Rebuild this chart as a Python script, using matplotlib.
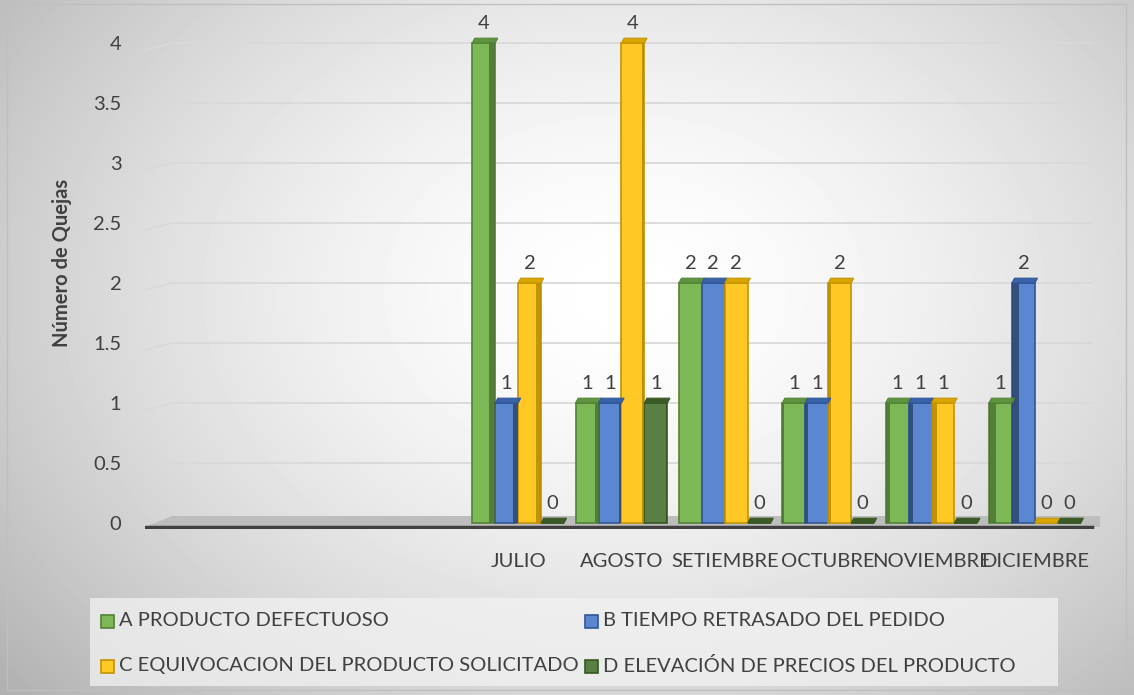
import numpy as np
import matplotlib.pyplot as plt
from matplotlib.patches import Polygon, Rectangle

# Monthly complaint counts per cause (first three slots are empty categories)
months = ['', '', '', 'JULIO', 'AGOSTO', 'SETIEMBRE', 'OCTUBRE', 'NOVIEMBRE', 'DICIEMBRE']
active = [3, 4, 5, 6, 7, 8]
serie_a = [4, 1, 2, 1, 1, 1]
serie_b = [1, 1, 2, 1, 1, 2]
serie_c = [2, 4, 2, 2, 1, 0]
serie_d = [0, 1, 0, 0, 0, 0]
series_names = ['A PRODUCTO DEFECTUOSO',
                'B TIEMPO RETRASADO DEL PEDIDO',
                'C EQUIVOCACION DEL PRODUCTO SOLICITADO',
                'D ELEVACIÓN DE PRECIOS DEL PRODUCTO']
y_ticks = [0, 0.5, 1, 1.5, 2, 2.5, 3, 3.5, 4]

faces = ['#7DB857', '#5B87D0', '#FFC825', '#5A7F45']
edges = ['#548235', '#2F5597', '#C49400', '#385723']
tops = ['#5E9440', '#3A62A8', '#D9A600', '#3A5A28']
sides = ['#4C7434', '#2D4670', '#B88A00', '#34502A']

plt.rcParams['font.family'] = ['Lato', 'DejaVu Sans']
txt = '#404040'
fs = 14.5

W, H = 1134, 695
fig = plt.figure(figsize=(W / 100, H / 100), dpi=100)

# radial grey background, drawn in pixel coordinates
bg = fig.add_axes([0, 0, 1, 1], zorder=-5)
yy, xx = np.mgrid[0:H, 0:W]
r = np.sqrt(((xx - W * 0.55) / (W * 0.62)) ** 2 + ((yy - H * 0.42) / (H * 0.75)) ** 2)
shade = 1.0 - 0.24 * np.clip(r, 0, 1.3) ** 1.6
bg.imshow(shade, cmap='gray', vmin=0, vmax=1, extent=[0, W, H, 0], aspect='auto')
bg.add_patch(Rectangle((7, 4), W - 15, H - 9, fill=False, ec='#BFBFBF', lw=1))
bg.set_xlim(0, W)
bg.set_ylim(H, 0)
bg.axis('off')

left, right, y0, ytop = 145, 1100, 529, 19
ax = fig.add_axes([left / W, (H - y0) / H, (right - left) / W, (y0 - ytop) / H])
ax.set_facecolor('none')
ax.set_xlim(-0.61, 8.63)
ax.set_ylim(-0.05, 4.2)
for s in ax.spines.values():
    s.set_visible(False)

# gridlines on the back wall
for t in y_ticks[1:]:
    ax.plot([-0.61, -0.35, 8.55], [t - 0.06, t, t], color='#D9D9D9', lw=1.3, zorder=0)

# floor slab and front edge
ax.add_patch(Polygon([(-0.61, -0.03), (8.63, -0.03), (8.63, 0.06), (-0.35, 0.06)],
                     closed=True, fc='#BDBDBD', ec='none', zorder=1))
ax.plot([-0.61, 8.55], [-0.035, -0.035], color='#404040', lw=2.5, zorder=2)

bw = 0.222
dx, dy = 0.025, 0.04
view_x = 5.0  # columns right of this show their left side, left of it their right side
all_series = [serie_a, serie_b, serie_c, serie_d]
for i, vals in enumerate(all_series):
    xs = np.array(active) + (i - 1.5) * bw
    ax.bar(xs, vals, width=bw, color=faces[i], edgecolor=edges[i], lw=1.2,
           zorder=3 + i * 0.01)
    for x, v in zip(xs, vals):
        x0 = x - bw / 2
        # shaded side face
        sw = min(0.025 * abs(x - view_x), 0.09)
        if v > 0 and sw > 0.01:
            sx = x0 if x > view_x else x0 + bw - sw
            ax.add_patch(Rectangle((sx, 0), sw, v, fc=sides[i], ec='none',
                                   alpha=0.85, zorder=3.2 + i * 0.01))
        # top face of each column
        ax.add_patch(Polygon([(x0, v), (x0 + bw, v), (x0 + bw + dx, v + dy), (x0 + dx, v + dy)],
                             closed=True, fc=tops[i], ec=edges[i], lw=0.8, zorder=3.5))
        ax.annotate(str(v), (x, v), xytext=(0, 8), textcoords='offset points',
                    ha='center', va='bottom', fontsize=fs, color=txt)

ax.set_yticks(y_ticks)
ax.set_yticklabels([f'{t:g}' for t in y_ticks], fontsize=fs, color=txt)
ax.tick_params(axis='y', length=0, pad=17)
ax.set_xticks(range(len(months)))
ax.set_xticklabels(months, fontsize=fs, color=txt)
ax.tick_params(axis='x', length=0, pad=17)
ax.set_ylabel('Número de Quejas', fontsize=fs, fontweight='bold', color=txt)
ax.yaxis.set_label_coords((72 - left) / (right - left), (y0 - 263) / (y0 - ytop))

# legend box with two rows: A, B / C, D
bg.add_patch(Rectangle((90, 598), 968, 88, fc='#F2F2F2', ec='none', alpha=0.75))
slots = [(101, 621), (585, 621), (101, 666), (585, 666)]
for i, (lx, ly) in enumerate(slots):
    bg.add_patch(Rectangle((lx, ly - 6.5), 13, 13, fc=faces[i], ec=edges[i], lw=1.2))
    bg.text(lx + 18, ly, series_names[i], fontsize=fs, color=txt, ha='left', va='center')

fig.savefig('out.png', dpi=100)
